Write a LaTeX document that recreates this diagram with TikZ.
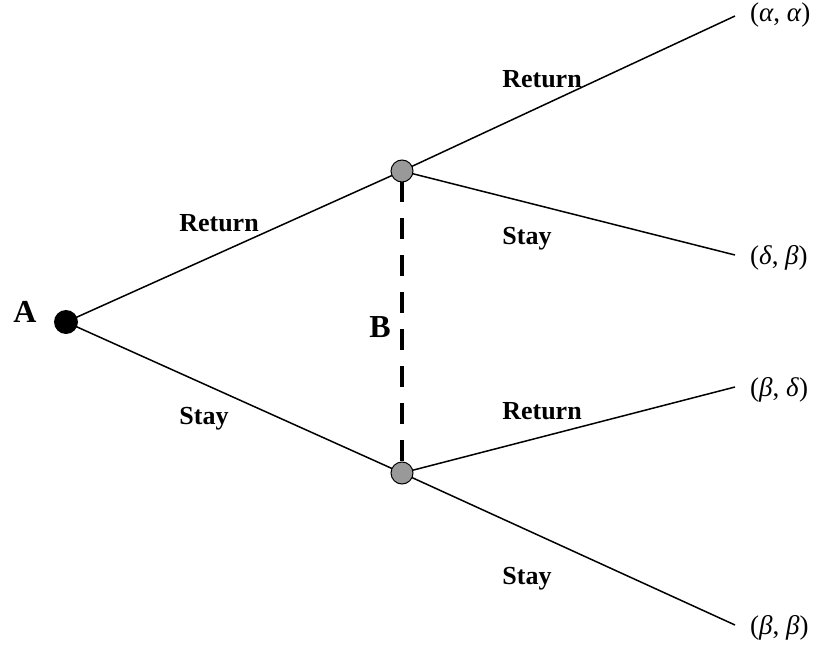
\documentclass[tikz,border=0pt]{standalone}
\usepackage{fontspec}
\setmainfont{Liberation Serif}
\begin{document}
\begin{tikzpicture}[x=1pt,y=-1pt,
  edge/.style={line width=1.5pt},
  lab/.style={font=\fontsize{26}{30}\selectfont\bfseries, inner sep=0pt},
  big/.style={font=\fontsize{32}{36}\selectfont\bfseries, inner sep=0pt},
  pay/.style={font=\fontsize{27}{31}\selectfont, inner sep=0pt, anchor=west},
  chance/.style={circle, fill=black, minimum size=24pt, inner sep=0pt},
  info/.style={circle, draw=black, line width=1pt, fill=gray!80, minimum size=22pt, inner sep=0pt}]
\useasboundingbox (0,0) rectangle (825,645);
\coordinate (t1) at (735,16);
\coordinate (t2) at (735,255);
\coordinate (t3) at (735,387);
\coordinate (t4) at (735,625);
\draw[edge] (66,322) -- (402,171);
\draw[edge] (66,322) -- (402,473);
\draw[edge] (402,171) -- (t1);
\draw[edge] (402,171) -- (t2);
\draw[edge] (402,473) -- (t3);
\draw[edge] (402,473) -- (t4);
\draw[line width=4pt, dash pattern=on 21pt off 16pt] (402,181) -- (402,463);
\node[chance] (A) at (66,322) {};
\node[info] (B1) at (402,171) {};
\node[info] (B2) at (402,473) {};
\node[big] (Alab) at (25,312) {A};
\node[big] (Blab) at (380,327) {B};
\node[lab] (l1) at (219,223) {Return};
\node[lab] (l2) at (204,419) {Stay};
\node[lab] (l3) at (542,79) {Return};
\node[lab] (l4) at (527,239) {Stay};
\node[lab] (l5) at (542,411) {Return};
\node[lab] (l6) at (527,579) {Stay};
\node[pay] (p1) at (750,15) {(\textit{α}, \textit{α})};
\node[pay] (p2) at (750,258) {(\textit{δ}, \textit{β})};
\node[pay] (p3) at (750,390) {(\textit{β}, \textit{δ})};
\node[pay] (p4) at (750,628) {(\textit{β}, \textit{β})};
\end{tikzpicture}
\end{document}
